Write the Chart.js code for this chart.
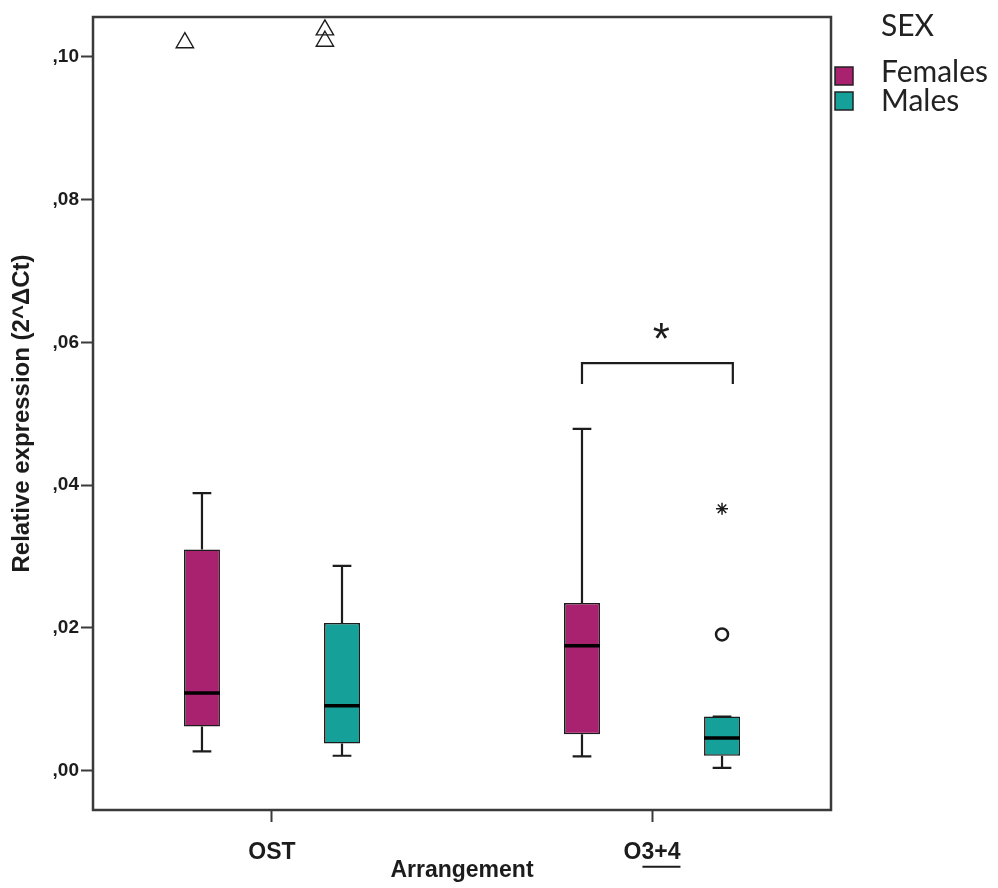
<!DOCTYPE html>
<html>
<head>
<meta charset="utf-8">
<script src="https://cdn.jsdelivr.net/npm/chart.js@4.4.1/dist/chart.umd.min.js"></script>
<style>
  html, body { margin: 0; padding: 0; background: #ffffff; }
  #wrap { width: 998px; height: 888px; position: relative; }
</style>
</head>
<body>
<div id="wrap"><canvas id="c" width="998" height="888"></canvas></div>
<script>
// ---- data ----
const categories = ['OST', 'O3+4'];
const seriesNames = ['Females', 'Males'];
const legendTitle = 'SEX';
const xTitle = 'Arrangement';
const yTitle = 'Relative expression (2^\u0394Ct)';

const femaleMin    = [0.0027, 0.0020];
const femaleQ1     = [0.0062, 0.0051];
const femaleMedian = [0.0109, 0.0175];
const femaleQ3     = [0.0310, 0.0235];
const femaleMax    = [0.0389, 0.0479];

const maleMin    = [0.0021, 0.0004];
const maleQ1     = [0.0038, 0.0021];
const maleMedian = [0.0091, 0.0046];
const maleQ3     = [0.0207, 0.0076];
const maleMax    = [0.0287, 0.0076];

const femaleExtremes  = [[0.1020], []];          // triangles
const maleExtremes    = [[0.1038, 0.1022], []];  // triangles
const maleOutliers    = [[], [0.0191]];          // circle
const maleFarOutliers = [[], [0.0367]];          // star

const yTickValues = [0, 0.02, 0.04, 0.06, 0.08, 0.10];
const yTickLabels = [',00', ',02', ',04', ',06', ',08', ',10'];

const sigCategory = 1;
const sigTopValue = 0.0571;
const sigEndValue = 0.0542;
const sigLabel = '*';

// ---- styles ----
const femaleColor = '#A9226F';
const maleColor = '#16A09A';
const inkColor = '#1c1c1c';
const frameColor = '#3a3a3a';
const categoryPercentage = 0.737;
const barPercentage = 0.257;
const groupOffset = categoryPercentage / 4;
const extremeShift = -0.045;
const boldFont = 'Liberation Sans, Arial, sans-serif';

const stats = [
  { min: femaleMin, q1: femaleQ1, med: femaleMedian, q3: femaleQ3, max: femaleMax },
  { min: maleMin, q1: maleQ1, med: maleMedian, q3: maleQ3, max: maleMax }
];

function pts(groups, side, shift) {
  const out = [];
  groups.forEach((arr, i) => arr.forEach(v => out.push({ x: i + side * groupOffset + shift, y: v })));
  return out;
}

const boxPlugin = {
  id: 'boxParts',
  beforeDatasetsDraw(chart) {
    const ctx = chart.ctx;
    const ys = chart.scales.y;
    ctx.save();
    ctx.strokeStyle = inkColor;
    ctx.lineWidth = 2.2;
    stats.forEach((s, d) => {
      chart.getDatasetMeta(d).data.forEach((el, j) => {
        const x = el.x;
        const cap = el.width * 0.26;
        const yMax = ys.getPixelForValue(s.max[j]);
        const yQ3 = ys.getPixelForValue(s.q3[j]);
        const yQ1 = ys.getPixelForValue(s.q1[j]);
        const yMin = ys.getPixelForValue(s.min[j]);
        ctx.beginPath();
        ctx.moveTo(x, yQ3); ctx.lineTo(x, yMax);
        ctx.moveTo(x - cap, yMax); ctx.lineTo(x + cap, yMax);
        ctx.moveTo(x, yQ1); ctx.lineTo(x, yMin);
        ctx.moveTo(x - cap, yMin); ctx.lineTo(x + cap, yMin);
        ctx.stroke();
      });
    });
    ctx.restore();
  },
  afterDatasetsDraw(chart) {
    const ctx = chart.ctx;
    const ys = chart.scales.y;
    ctx.save();
    // medians
    ctx.strokeStyle = '#000';
    ctx.lineWidth = 3.5;
    stats.forEach((s, d) => {
      chart.getDatasetMeta(d).data.forEach((el, j) => {
        const y = ys.getPixelForValue(s.med[j]);
        ctx.beginPath();
        ctx.moveTo(el.x - el.width / 2, y);
        ctx.lineTo(el.x + el.width / 2, y);
        ctx.stroke();
      });
    });
    // significance bracket
    const fEl = chart.getDatasetMeta(0).data[sigCategory];
    const mEl = chart.getDatasetMeta(1).data[sigCategory];
    const x1 = fEl.x;
    const x2 = mEl.x + mEl.width * 0.3;
    const yT = ys.getPixelForValue(sigTopValue);
    const yE = ys.getPixelForValue(sigEndValue);
    ctx.strokeStyle = inkColor;
    ctx.lineWidth = 2.2;
    ctx.beginPath();
    ctx.moveTo(x1, yE); ctx.lineTo(x1, yT); ctx.lineTo(x2, yT); ctx.lineTo(x2, yE);
    ctx.stroke();
    ctx.fillStyle = inkColor;
    ctx.font = '44px "Liberation Sans", Arial, sans-serif';
    ctx.textAlign = 'center';
    ctx.textBaseline = 'alphabetic';
    ctx.fillText(sigLabel, (x1 + x2) / 2 + 4, yT - 9);
    ctx.restore();
  },
  afterDraw(chart) {
    const ctx = chart.ctx;
    const a = chart.chartArea;
    ctx.save();
    // frame
    ctx.strokeStyle = frameColor;
    ctx.lineWidth = 2.5;
    ctx.strokeRect(a.left, a.top, a.right - a.left, a.bottom - a.top);
    // underline "3+4" of the second category label
    const xs = chart.scales.x;
    ctx.font = 'bold 23px ' + boldFont;
    const lbl = categories[1];
    const w = ctx.measureText(lbl).width;
    const w0 = ctx.measureText(lbl.charAt(0)).width;
    const cx = xs.getPixelForValue(1);
    const uy = a.bottom + 12 + 17 + 13.8 + 14;
    ctx.strokeStyle = inkColor;
    ctx.lineWidth = 2;
    ctx.beginPath();
    ctx.moveTo(cx - w / 2 + w0 + 1, uy);
    ctx.lineTo(cx + w / 2, uy);
    ctx.stroke();
    // legend
    const colors = [femaleColor, maleColor];
    ctx.font = '30px Lato, "Open Sans", sans-serif';
    ctx.fillStyle = '#222';
    ctx.textAlign = 'left';
    ctx.textBaseline = 'middle';
    ctx.fillText(legendTitle, 881, 26);
    const boxY = [67, 92];
    const textY = [72, 101];
    seriesNames.forEach((n, i) => {
      ctx.fillStyle = colors[i];
      ctx.fillRect(835, boxY[i], 18, 18);
      ctx.strokeStyle = '#222';
      ctx.lineWidth = 1.5;
      ctx.strokeRect(835, boxY[i], 18, 18);
      ctx.fillStyle = '#222';
      ctx.fillText(n, 881, textY[i]);
    });
    ctx.restore();
  }
};

const ctx = document.getElementById('c').getContext('2d');
new Chart(ctx, {
  type: 'bar',
  data: {
    datasets: [
      {
        label: seriesNames[0],
        data: categories.map((c, i) => ({ x: i, y: [femaleQ1[i], femaleQ3[i]] })),
        backgroundColor: femaleColor,
        borderColor: inkColor,
        borderWidth: 1.6,
        borderSkipped: false,
        categoryPercentage: categoryPercentage,
        barPercentage: barPercentage,
        order: 2
      },
      {
        label: seriesNames[1],
        data: categories.map((c, i) => ({ x: i, y: [maleQ1[i], maleQ3[i]] })),
        backgroundColor: maleColor,
        borderColor: inkColor,
        borderWidth: 1.6,
        borderSkipped: false,
        categoryPercentage: categoryPercentage,
        barPercentage: barPercentage,
        order: 2
      },
      {
        type: 'scatter',
        label: 'Female extremes',
        data: pts(femaleExtremes, -1, extremeShift),
        pointStyle: 'triangle',
        radius: 10,
        backgroundColor: '#ffffff',
        borderColor: inkColor,
        borderWidth: 1.4,
        order: 1
      },
      {
        type: 'scatter',
        label: 'Male extremes',
        data: pts(maleExtremes, 1, extremeShift),
        pointStyle: 'triangle',
        radius: 10,
        backgroundColor: 'rgba(255,255,255,0)',
        borderColor: inkColor,
        borderWidth: 1.4,
        order: 1
      },
      {
        type: 'scatter',
        label: 'Male outliers',
        data: pts(maleOutliers, 1, 0),
        pointStyle: 'circle',
        radius: 6,
        backgroundColor: '#ffffff',
        borderColor: inkColor,
        borderWidth: 2.5,
        order: 1
      },
      {
        type: 'scatter',
        label: 'Male far outliers',
        data: pts(maleFarOutliers, 1, 0),
        pointStyle: 'star',
        radius: 6,
        backgroundColor: inkColor,
        borderColor: inkColor,
        borderWidth: 1.5,
        order: 1
      }
    ]
  },
  options: {
    responsive: false,
    animation: false,
    layout: { padding: { left: 0, right: 167, top: 17, bottom: 0 } },
    plugins: { legend: { display: false }, tooltip: { enabled: false } },
    scales: {
      x: {
        type: 'linear',
        min: -0.471,
        max: 1.471,
        offset: false,
        border: { display: false },
        grid: { offset: false, drawOnChartArea: false, drawTicks: true, tickLength: 12, tickWidth: 2, tickColor: frameColor },
        afterBuildTicks: (s) => { s.ticks = categories.map((c, i) => ({ value: i })); },
        afterFit: (s) => { s.height = 78; },
        ticks: {
          padding: 17,
          color: inkColor,
          font: { family: boldFont, size: 23, weight: 'bold' },
          callback: (v) => categories[v] !== undefined ? categories[v] : ''
        },
        title: {
          display: true,
          text: xTitle,
          color: inkColor,
          font: { family: boldFont, size: 23, weight: 'bold' },
          padding: { top: 0, bottom: 4 }
        }
      },
      y: {
        type: 'linear',
        min: -0.0055,
        max: 0.1056,
        border: { display: false },
        grid: { drawOnChartArea: false, drawTicks: true, tickLength: 12, tickWidth: 2, tickColor: frameColor },
        afterBuildTicks: (s) => { s.ticks = yTickValues.map(v => ({ value: v })); },
        afterFit: (s) => { s.width = 93; },
        ticks: {
          padding: 2,
          color: inkColor,
          font: { family: boldFont, size: 19, weight: 'bold' },
          callback: (v) => { const i = yTickValues.findIndex(t => Math.abs(t - v) < 1e-9); return i >= 0 ? yTickLabels[i] : ''; }
        },
        title: {
          display: true,
          text: yTitle,
          color: inkColor,
          font: { family: boldFont, size: 24, weight: 'bold' },
          padding: { top: 8, bottom: 0 }
        }
      }
    }
  },
  plugins: [boxPlugin]
});
</script>
</body>
</html>
